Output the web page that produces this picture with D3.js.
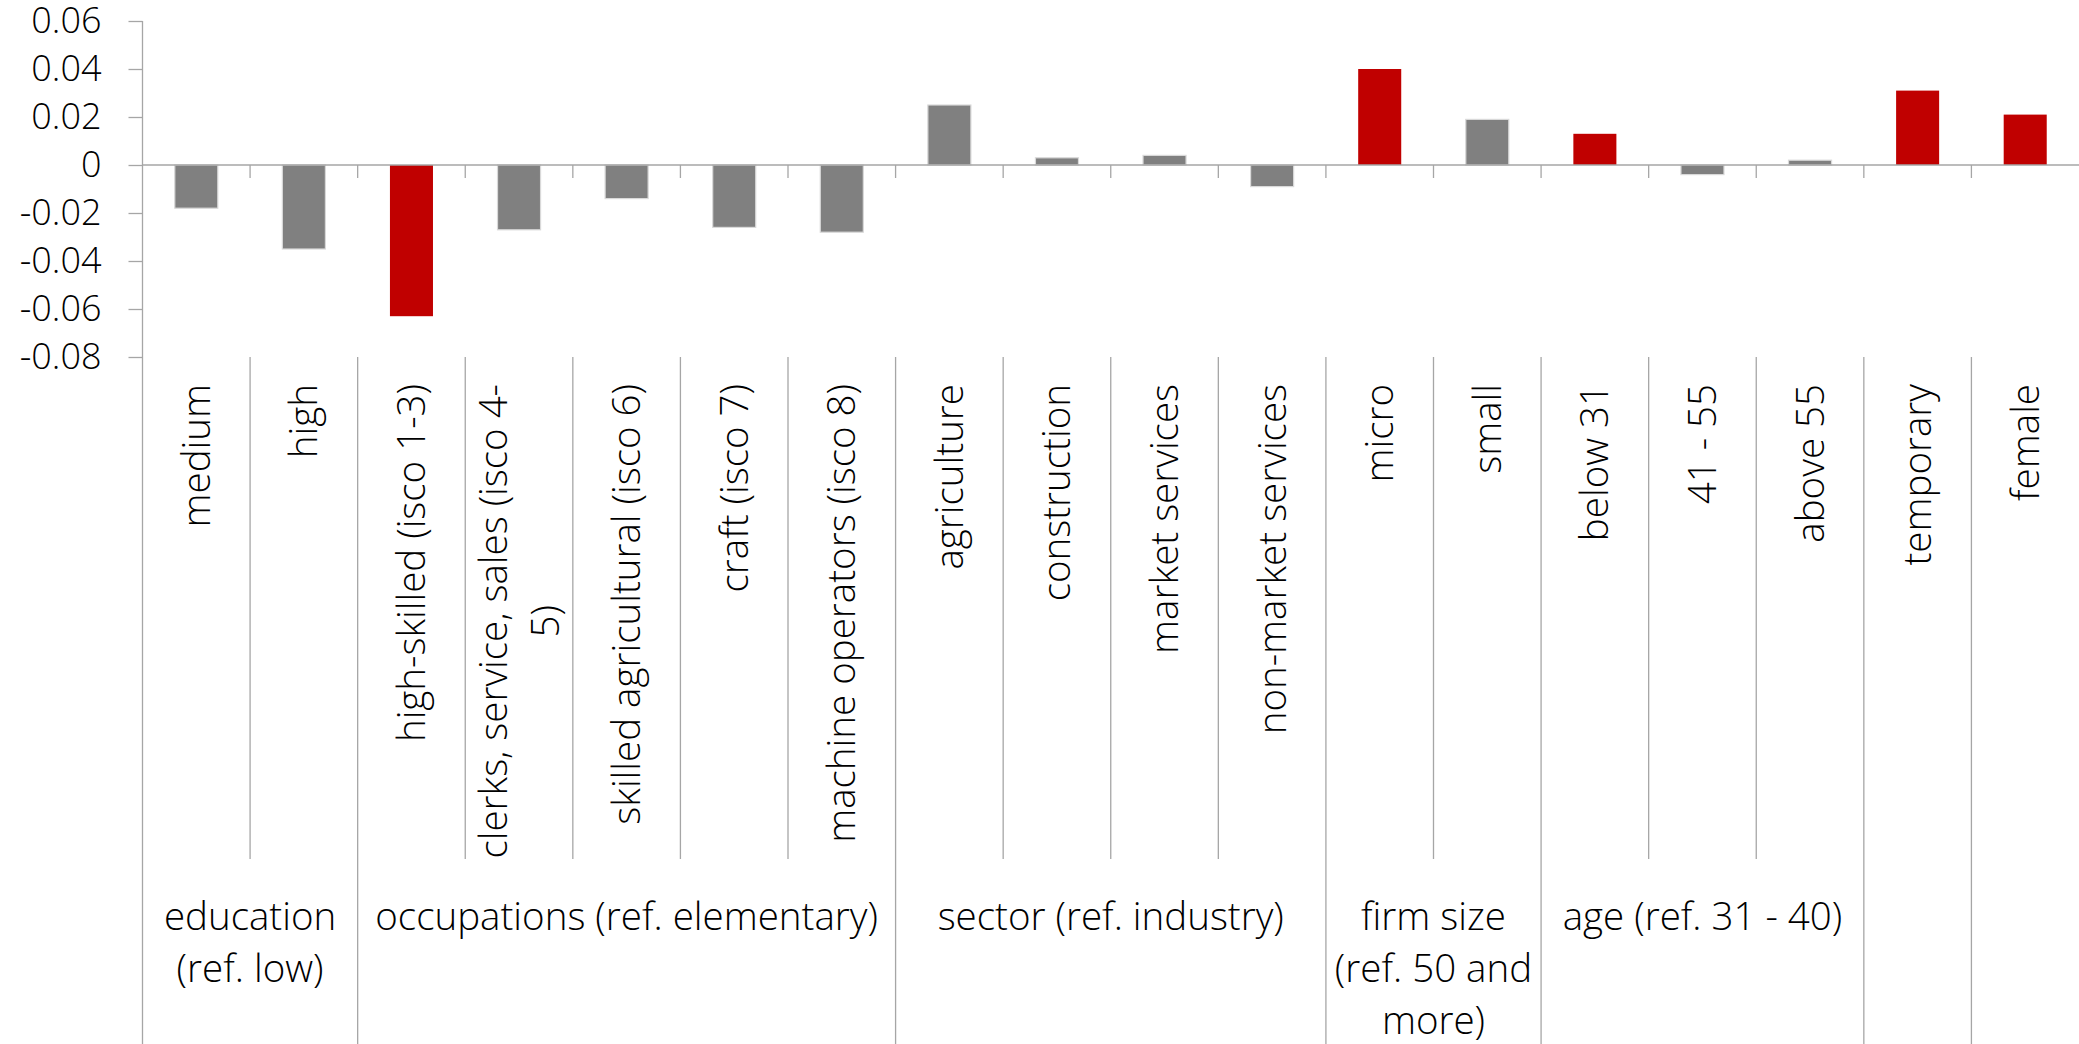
<!DOCTYPE html>
<html>
<head>
<meta charset="utf-8">
<script src="https://cdn.jsdelivr.net/npm/d3@7"></script>
<style>
  html, body { margin: 0; padding: 0; background: #fff; }
  svg { display: block; }
  text { font-family: "Open Sans", "Noto Sans", sans-serif; font-weight: 300; fill: #000; }
</style>
</head>
<body>
<svg id="chart" width="2079" height="1044"></svg>
<script>
// ---------- data ----------
const categories = [
  "medium", "high",
  "high-skilled (isco 1-3)", "clerks, service, sales (isco 4-\n5)", "skilled agricultural (isco 6)", "craft (isco 7)", "machine operators (isco 8)",
  "agriculture", "construction", "market services", "non-market services",
  "micro", "small",
  "below 31", "41 - 55", "above 55",
  "temporary", "female"
];
const values = [
  -0.018, -0.035,
  -0.063, -0.027, -0.014, -0.026, -0.028,
  0.025, 0.003, 0.004, -0.009,
  0.040, 0.019,
  0.013, -0.004, 0.002,
  0.031, 0.021
];
const significant = [
  false, false,
  true, false, false, false, false,
  false, false, false, false,
  true, false,
  true, false, false,
  true, true
];
const groupLabels = [
  ["education", "(ref. low)"],
  ["occupations (ref. elementary)"],
  ["sector (ref. industry)"],
  ["firm size", "(ref. 50 and", "more)"],
  ["age (ref. 31 - 40)"],
  [],
  []
];
const groupSizes = [2, 5, 4, 2, 3, 1, 1];
const yTicks = [0.06, 0.04, 0.02, 0, -0.02, -0.04, -0.06, -0.08];

// ---------- layout ----------
const W = 2079, H = 1044;
const left = 142.5, right = 2079;
const yTop = 21, yBottom = 357;
const labelTop = 384;       // end of rotated category labels
const innerDivEnd = 859;
const axisColor = "#a6a6a6";
const tickFont = 36;
const labelFont = 38.5;

const svg = d3.select("#chart");

const x = d3.scaleBand().domain(categories).range([left, right]).paddingInner(0.6).paddingOuter(0.3);
const step = x.step();
const y = d3.scaleLinear().domain([-0.08, 0.06]).range([yBottom, yTop]);

// y axis
const yAxis = d3.axisLeft(y).tickValues(yTicks).tickSize(14).tickPadding(27)
  .tickFormat(d => d === 0 ? "0" : d.toFixed(2));
const gy = svg.append("g").attr("transform", `translate(${left},0)`).call(yAxis);
gy.select(".domain").remove();
gy.selectAll(".tick line").attr("stroke", axisColor).attr("stroke-width", 1.3);
gy.selectAll(".tick text").style("font-size", tickFont + "px").attr("fill", "#000");

// bars
svg.append("g").selectAll("rect").data(values).join("rect")
  .attr("x", (d, i) => x(categories[i]))
  .attr("width", x.bandwidth())
  .attr("y", d => y(Math.max(0, d)))
  .attr("height", d => Math.abs(y(d) - y(0)))
  .attr("fill", (d, i) => significant[i] ? "#c00000" : "#808080")
  .attr("stroke", (d, i) => significant[i] ? "none" : "#d9d9d9")
  .attr("stroke-width", 1.2);

// vertical axis line (full height incl. label area)
svg.append("line").attr("x1", left).attr("x2", left).attr("y1", yTop).attr("y2", H)
  .attr("stroke", axisColor).attr("stroke-width", 1.3);

// zero line
svg.append("line").attr("x1", left).attr("x2", right).attr("y1", y(0)).attr("y2", y(0))
  .attr("stroke", axisColor).attr("stroke-width", 1.6);

// category boundaries
const boundaries = d3.range(1, categories.length).map(i => left + i * step);
const groupBounds = new Set();
let acc = 0;
groupSizes.forEach(s => { acc += s; groupBounds.add(acc); });

svg.append("g").selectAll("line.tk").data(boundaries).join("line")
  .attr("x1", d => d).attr("x2", d => d)
  .attr("y1", y(0)).attr("y2", y(0) + 13)
  .attr("stroke", axisColor).attr("stroke-width", 1.3);

svg.append("g").selectAll("line.dv").data(d3.range(1, categories.length)).join("line")
  .attr("x1", i => left + i * step).attr("x2", i => left + i * step)
  .attr("y1", yBottom)
  .attr("y2", i => groupBounds.has(i) ? H : innerDivEnd)
  .attr("stroke", axisColor).attr("stroke-width", 1.3);

// category labels (rotated)
const lineGap = 52;
categories.forEach((c, i) => {
  const lines = c.split("\n");
  const cx = x(c) + x.bandwidth() / 2;
  const g = svg.append("g");
  const t = g.append("text")
    .style("font-size", labelFont + "px")
    .attr("text-anchor", "middle");
  lines.forEach((ln, k) => {
    t.append("tspan").attr("x", 0).attr("y", (k - (lines.length - 1) / 2) * lineGap).attr("dy", "0.35em").text(ln);
  });
  let maxLen = 0;
  t.selectAll("tspan").each(function() { maxLen = Math.max(maxLen, this.getComputedTextLength()); });
  g.attr("transform", `translate(${cx},${labelTop + maxLen / 2}) rotate(-90)`);
});

// group labels
const groupLineGap = 52;
let start = 0;
groupSizes.forEach((s, gi) => {
  const cx = left + (start + s / 2) * step;
  const t = svg.append("text").attr("text-anchor", "middle").style("font-size", labelFont + "px");
  groupLabels[gi].forEach((ln, k) => {
    t.append("tspan").attr("x", cx).attr("y", 917 + k * groupLineGap).attr("dy", "0.35em").text(ln);
  });
  start += s;
});
</script>
</body>
</html>
